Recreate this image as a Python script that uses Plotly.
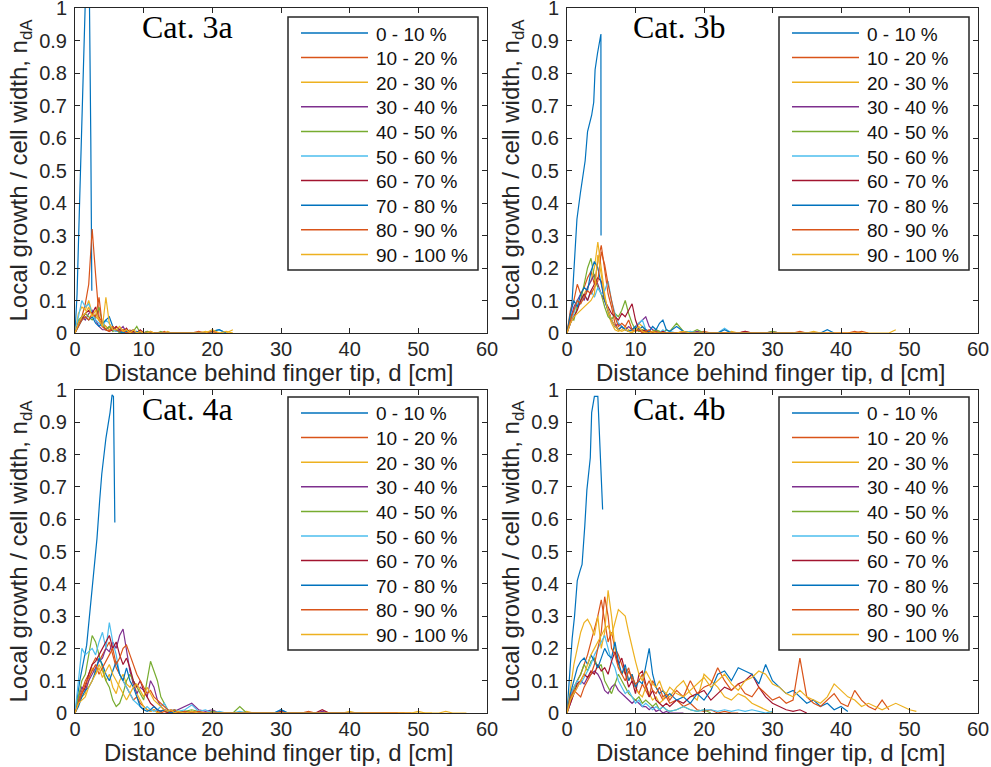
import plotly.graph_objects as go

# Sampling grids along the finger [cm]
d_near = [0, 0.5, 1, 1.5, 2, 2.5, 3, 3.5, 4, 4.5, 5, 5.5, 6, 6.5, 7, 7.5,
          8, 8.5, 9, 9.5, 10, 10.5, 11, 11.5, 12, 12.5, 13, 13.5, 14, 14.5, 15]
d_far = list(range(16, 61))

bands = ["0 - 10 %", "10 - 20 %", "20 - 30 %", "30 - 40 %", "40 - 50 %",
         "50 - 60 %", "60 - 70 %", "70 - 80 %", "80 - 90 %", "90 - 100 %"]
colors = ["#0072BD", "#D95319", "#EDB120", "#7E2F8E", "#77AC30",
          "#4DBEEE", "#A2142F", "#0072BD", "#D95319", "#EDB120"]
x_ticks = [0, 10, 20, 30, 40, 50, 60]
y_ticks = [0, 0.1, 0.2, 0.3, 0.4, 0.5, 0.6, 0.7, 0.8, 0.9, 1]
y_tick_text = ["0", "0.1", "0.2", "0.3", "0.4", "0.5", "0.6", "0.7", "0.8", "0.9", "1"]
x_title = "Distance behind finger tip, d [cm]"
y_title = "Local growth / cell width, n<sub>dA</sub>"

# ---------------- Cat. 3a ----------------
c3a_tip_d = [0, 0.3, 0.6, 0.9, 1.2, 1.5, 1.8, 2.1, 2.3, 2.45]
c3a_tip_n = [0, 0.12, 0.35, 0.6, 0.85, 1.02, 1.05, 1.03, 0.6, 0.13]
c3a_near = [
    [0, 0.03, 0.05, 0.09, 0.15, 0.32, 0.18, 0.05, 0.03, 0.02, 0.01, 0.01, 0.02, 0.01, 0.005, 0.01, 0, 0.005, 0, 0.005, 0, 0, 0.005, 0, 0, 0, 0.005, 0, 0, 0, 0],
    [0, 0.06, 0.08, 0.07, 0.1, 0.06, 0.05, 0.04, 0.03, 0.02, 0.01, 0.02, 0.01, 0.005, 0.01, 0, 0.01, 0, 0.005, 0, 0, 0.005, 0, 0, 0, 0, 0, 0.005, 0, 0, 0],
    [0, 0.03, 0.05, 0.04, 0.06, 0.07, 0.04, 0.02, 0.01, 0.01, 0.02, 0.01, 0.005, 0.01, 0.02, 0, 0.005, 0.01, 0, 0, 0, 0.005, 0, 0, 0, 0, 0, 0, 0, 0, 0],
    [0, 0.04, 0.05, 0.06, 0.05, 0.04, 0.05, 0.08, 0.03, 0.01, 0.02, 0.005, 0.01, 0, 0.005, 0.01, 0, 0.005, 0.02, 0, 0, 0.005, 0, 0, 0, 0.005, 0, 0, 0, 0, 0],
    [0, 0.05, 0.1, 0.08, 0.09, 0.06, 0.04, 0.03, 0.02, 0.04, 0.03, 0.01, 0.005, 0.01, 0, 0.005, 0, 0, 0.005, 0, 0, 0, 0, 0, 0, 0, 0, 0, 0, 0, 0],
    [0, 0.03, 0.04, 0.06, 0.07, 0.06, 0.08, 0.04, 0.02, 0.01, 0.005, 0.01, 0.02, 0.01, 0.005, 0.015, 0, 0.005, 0, 0.01, 0, 0, 0, 0, 0, 0, 0, 0, 0, 0, 0],
    [0, 0.02, 0.04, 0.05, 0.04, 0.05, 0.03, 0.02, 0.03, 0.04, 0.05, 0.02, 0.01, 0.005, 0, 0.005, 0, 0, 0.005, 0, 0, 0, 0, 0, 0, 0, 0, 0, 0, 0, 0],
    [0, 0.02, 0.04, 0.05, 0.04, 0.06, 0.05, 0.11, 0.02, 0.01, 0.005, 0.02, 0.01, 0.005, 0.01, 0, 0.005, 0, 0, 0.005, 0, 0, 0, 0, 0, 0, 0, 0, 0, 0, 0],
    [0, 0.03, 0.05, 0.06, 0.08, 0.05, 0.07, 0.04, 0.02, 0.11, 0.03, 0.01, 0.01, 0.02, 0.005, 0.01, 0, 0.01, 0, 0.005, 0, 0, 0.005, 0, 0, 0, 0, 0, 0, 0, 0],
]
c3a_far = [
    [0, 0, 0.005, 0, 0, 0],
    [0, 0, 0, 0.005, 0, 0, 0, 0.01],
    [0, 0],
    [0, 0, 0],
    [0, 0, 0, 0, 0.005, 0.01, 0],
    [0, 0],
    [0, 0, 0, 0, 0.005, 0.01, 0],
    [0, 0, 0, 0, 0.005, 0],
    [0, 0, 0, 0, 0.01, 0, 0.005, 0],
]

# ---------------- Cat. 3b ----------------
c3b_tip_d = [0, 0.4, 0.75, 1.1, 1.45, 1.95, 2.65, 3.0, 3.6, 3.9, 4.1, 4.45, 4.85, 4.95, 4.97]
c3b_tip_n = [0, 0.04, 0.1, 0.22, 0.35, 0.43, 0.53, 0.62, 0.67, 0.71, 0.81, 0.86, 0.92, 0.92, 0.3]
c3b_near = [
    [0, 0.07, 0.1, 0.15, 0.12, 0.14, 0.17, 0.19, 0.15, 0.22, 0.27, 0.2, 0.12, 0.08, 0.03, 0.01, 0.02, 0.01, 0.005, 0.01, 0.02, 0.005, 0.01, 0, 0.005, 0, 0.01, 0, 0.005, 0, 0],
    [0, 0.05, 0.07, 0.08, 0.1, 0.12, 0.14, 0.16, 0.2, 0.28, 0.2, 0.12, 0.06, 0.03, 0.01, 0.005, 0.01, 0.02, 0.01, 0.005, 0.01, 0.03, 0.02, 0.005, 0, 0.005, 0, 0.005, 0, 0, 0],
    [0, 0.04, 0.08, 0.1, 0.12, 0.1, 0.14, 0.16, 0.18, 0.15, 0.12, 0.1, 0.07, 0.04, 0.02, 0.03, 0.02, 0.01, 0.02, 0.01, 0.02, 0.03, 0.04, 0.05, 0.02, 0.01, 0.005, 0, 0.005, 0, 0],
    [0, 0.05, 0.04, 0.08, 0.1, 0.15, 0.2, 0.23, 0.17, 0.14, 0.12, 0.08, 0.05, 0.04, 0.06, 0.05, 0.07, 0.1, 0.06, 0.03, 0.01, 0.005, 0.01, 0.005, 0, 0.005, 0.01, 0.005, 0, 0.01, 0.005],
    [0, 0.03, 0.06, 0.1, 0.09, 0.12, 0.1, 0.13, 0.11, 0.14, 0.12, 0.13, 0.16, 0.1, 0.06, 0.03, 0.02, 0.01, 0.005, 0.01, 0.02, 0.03, 0.04, 0.01, 0.005, 0, 0.005, 0, 0.01, 0, 0.005],
    [0, 0.03, 0.05, 0.07, 0.1, 0.12, 0.1, 0.13, 0.15, 0.17, 0.16, 0.1, 0.08, 0.06, 0.05, 0.04, 0.06, 0.05, 0.07, 0.09, 0.04, 0.01, 0.005, 0.01, 0, 0.005, 0, 0, 0.005, 0, 0],
    [0, 0.06, 0.1, 0.08, 0.12, 0.14, 0.13, 0.19, 0.22, 0.2, 0.15, 0.1, 0.07, 0.04, 0.02, 0.01, 0.02, 0.01, 0.005, 0.01, 0.02, 0.01, 0.02, 0.01, 0.005, 0.02, 0.01, 0.03, 0.04, 0.01, 0.005],
    [0, 0.04, 0.07, 0.1, 0.09, 0.11, 0.13, 0.12, 0.14, 0.16, 0.25, 0.21, 0.15, 0.1, 0.05, 0.02, 0.03, 0.02, 0.04, 0.01, 0.005, 0.01, 0, 0.005, 0.01, 0, 0.005, 0, 0, 0, 0],
    [0, 0.03, 0.05, 0.06, 0.07, 0.08, 0.09, 0.1, 0.12, 0.24, 0.18, 0.11, 0.07, 0.04, 0.02, 0.01, 0.005, 0.01, 0.005, 0, 0.01, 0.02, 0.005, 0, 0, 0.005, 0, 0, 0, 0, 0],
]
c3b_far = [
    [0, 0.005, 0, 0, 0.005, 0, 0, 0, 0, 0, 0.005, 0, 0, 0, 0, 0, 0, 0, 0.005, 0, 0, 0, 0, 0, 0, 0, 0.005, 0],
    [0, 0, 0.005, 0, 0, 0, 0, 0, 0.005, 0, 0, 0, 0, 0, 0, 0, 0, 0, 0, 0, 0.005, 0],
    [0, 0, 0, 0.005, 0, 0, 0, 0, 0, 0, 0, 0, 0, 0, 0.005, 0, 0, 0],
    [0.03, 0.005, 0, 0.01, 0, 0, 0, 0, 0, 0, 0, 0, 0, 0, 0.005, 0, 0, 0, 0, 0],
    [0, 0, 0.005, 0, 0, 0, 0, 0.015, 0, 0, 0, 0, 0, 0, 0, 0, 0, 0, 0, 0, 0, 0],
    [0, 0, 0, 0, 0, 0, 0, 0, 0, 0, 0.005, 0, 0, 0, 0, 0, 0, 0],
    [0.02, 0.005, 0, 0, 0, 0, 0, 0.01, 0, 0, 0, 0, 0, 0, 0, 0, 0, 0, 0, 0, 0, 0, 0.01, 0],
    [0, 0, 0, 0, 0, 0, 0, 0, 0, 0, 0, 0, 0, 0, 0, 0, 0, 0, 0, 0, 0, 0, 0, 0, 0, 0, 0, 0.005, 0],
    [0, 0.005, 0, 0, 0, 0, 0, 0, 0, 0, 0, 0, 0, 0, 0, 0, 0, 0, 0, 0, 0, 0, 0, 0, 0, 0, 0, 0, 0, 0, 0, 0, 0.01],
]

# ---------------- Cat. 4a ----------------
c4a_tip_d = [0, 0.7, 1.7, 2.4, 3.2, 3.6, 3.9, 4.5, 5.1, 5.4, 5.6, 5.8]
c4a_tip_n = [0, 0.1, 0.21, 0.36, 0.54, 0.66, 0.74, 0.85, 0.93, 0.985, 0.98, 0.59]
c4a_near = [
    [0, 0.04, 0.07, 0.1, 0.12, 0.15, 0.17, 0.16, 0.18, 0.2, 0.22, 0.18, 0.14, 0.12, 0.1, 0.08, 0.06, 0.04, 0.05, 0.03, 0.02, 0.01, 0.005, 0.01, 0.005, 0, 0.005, 0, 0, 0, 0],
    [0, 0.03, 0.05, 0.06, 0.1, 0.14, 0.12, 0.15, 0.13, 0.1, 0.12, 0.08, 0.06, 0.1, 0.12, 0.09, 0.08, 0.1, 0.06, 0.04, 0.02, 0.01, 0.005, 0.01, 0, 0.005, 0.01, 0, 0.005, 0, 0],
    [0, 0.05, 0.08, 0.07, 0.1, 0.12, 0.14, 0.16, 0.17, 0.2, 0.19, 0.22, 0.2, 0.24, 0.26, 0.2, 0.13, 0.09, 0.06, 0.08, 0.07, 0.05, 0.1, 0.08, 0.04, 0.02, 0.01, 0.005, 0.01, 0.005, 0.01],
    [0, 0.05, 0.1, 0.12, 0.18, 0.24, 0.22, 0.18, 0.14, 0.1, 0.08, 0.04, 0.02, 0.03, 0.06, 0.1, 0.12, 0.1, 0.08, 0.06, 0.04, 0.1, 0.16, 0.13, 0.1, 0.05, 0.03, 0.01, 0.005, 0.01, 0.005],
    [0, 0.1, 0.2, 0.18, 0.19, 0.2, 0.18, 0.22, 0.25, 0.2, 0.28, 0.22, 0.18, 0.12, 0.1, 0.08, 0.06, 0.04, 0.03, 0.02, 0.01, 0.02, 0.01, 0.005, 0.01, 0.02, 0.03, 0.01, 0.005, 0.01, 0.005],
    [0, 0.03, 0.06, 0.08, 0.12, 0.15, 0.16, 0.18, 0.2, 0.22, 0.24, 0.2, 0.22, 0.18, 0.15, 0.17, 0.14, 0.1, 0.08, 0.1, 0.07, 0.05, 0.03, 0.02, 0.01, 0.005, 0.01, 0, 0.005, 0, 0],
    [0, 0.02, 0.05, 0.07, 0.08, 0.1, 0.13, 0.17, 0.15, 0.12, 0.1, 0.13, 0.16, 0.12, 0.1, 0.14, 0.1, 0.08, 0.05, 0.02, 0.01, 0.005, 0.01, 0.02, 0.01, 0.005, 0.01, 0.005, 0, 0.005, 0],
    [0, 0.03, 0.06, 0.09, 0.11, 0.13, 0.15, 0.12, 0.14, 0.16, 0.18, 0.2, 0.15, 0.17, 0.2, 0.21, 0.18, 0.15, 0.12, 0.1, 0.08, 0.06, 0.07, 0.05, 0.04, 0.03, 0.02, 0.01, 0.005, 0.01, 0],
    [0, 0.03, 0.04, 0.05, 0.08, 0.1, 0.12, 0.14, 0.11, 0.13, 0.15, 0.12, 0.1, 0.08, 0.06, 0.04, 0.06, 0.08, 0.09, 0.07, 0.05, 0.08, 0.06, 0.04, 0.03, 0.02, 0.01, 0.005, 0.01, 0, 0.005],
]
c4a_far = [
    [0, 0.005, 0, 0, 0.005, 0, 0, 0, 0, 0, 0, 0, 0, 0, 0, 0, 0, 0, 0.005, 0, 0, 0, 0, 0, 0, 0, 0, 0, 0, 0, 0, 0, 0],
    [0.005, 0, 0, 0, 0, 0, 0, 0, 0, 0.005, 0, 0, 0, 0, 0, 0, 0, 0, 0, 0, 0, 0, 0, 0, 0.005, 0, 0, 0, 0, 0, 0, 0, 0, 0, 0, 0, 0],
    [0.02, 0.03, 0.01, 0.005, 0.01, 0, 0, 0, 0, 0, 0, 0, 0, 0, 0, 0, 0, 0, 0, 0, 0.005, 0, 0, 0, 0],
    [0.005, 0.01, 0.005, 0, 0.005, 0, 0, 0, 0.02, 0, 0, 0, 0, 0, 0, 0, 0, 0, 0, 0],
    [0.01, 0.025, 0.005, 0.01, 0, 0.005, 0, 0, 0.005, 0, 0, 0, 0, 0, 0.01, 0, 0, 0, 0, 0, 0, 0, 0, 0, 0, 0, 0, 0, 0, 0],
    [0, 0.005, 0, 0, 0, 0, 0, 0, 0, 0, 0, 0, 0, 0, 0.005, 0, 0, 0, 0, 0, 0.01, 0, 0, 0, 0, 0, 0, 0, 0, 0, 0, 0],
    [0.005, 0, 0, 0, 0, 0, 0, 0, 0, 0, 0, 0, 0, 0, 0.01, 0, 0, 0, 0, 0, 0, 0, 0, 0, 0, 0, 0],
    [0.005, 0, 0.005, 0, 0, 0, 0, 0, 0, 0, 0, 0, 0, 0, 0, 0, 0, 0, 0, 0, 0, 0, 0, 0, 0, 0, 0, 0, 0, 0, 0, 0, 0, 0],
    [0, 0.005, 0, 0, 0, 0, 0, 0, 0, 0, 0, 0, 0, 0, 0, 0, 0, 0, 0, 0, 0, 0, 0, 0, 0, 0, 0, 0, 0, 0, 0, 0, 0, 0, 0.005, 0, 0, 0, 0.005, 0, 0, 0],
]

# ---------------- Cat. 4b ----------------
c4b_tip_d = [0, 0.4, 0.75, 1.1, 1.5, 1.9, 2.2, 2.6, 2.9, 3.2, 3.4, 3.6, 4.0, 4.5, 4.75, 5.0, 5.2]
c4b_tip_n = [0, 0.12, 0.23, 0.3, 0.41, 0.44, 0.46, 0.58, 0.69, 0.75, 0.79, 0.93, 0.98, 0.98, 0.86, 0.72, 0.63]
c4b_near = [
    [0, 0.05, 0.08, 0.1, 0.12, 0.15, 0.18, 0.22, 0.26, 0.3, 0.35, 0.28, 0.22, 0.25, 0.2, 0.18, 0.15, 0.12, 0.14, 0.1, 0.08, 0.06, 0.09, 0.07, 0.05, 0.1, 0.08, 0.06, 0.04, 0.05, 0.03],
    [0, 0.08, 0.15, 0.2, 0.25, 0.28, 0.29, 0.27, 0.24, 0.3, 0.2, 0.25, 0.38, 0.3, 0.2, 0.15, 0.12, 0.14, 0.1, 0.12, 0.08, 0.06, 0.05, 0.08, 0.06, 0.04, 0.05, 0.03, 0.04, 0.06, 0.05],
    [0, 0.03, 0.06, 0.08, 0.1, 0.09, 0.11, 0.12, 0.13, 0.12, 0.1, 0.07, 0.06, 0.08, 0.09, 0.07, 0.06, 0.05, 0.04, 0.03, 0.04, 0.03, 0.02, 0.02, 0.01, 0.02, 0.005, 0.01, 0, 0.005, 0],
    [0, 0.04, 0.07, 0.1, 0.12, 0.15, 0.13, 0.16, 0.17, 0.14, 0.15, 0.1, 0.08, 0.06, 0.09, 0.12, 0.1, 0.08, 0.06, 0.05, 0.04, 0.05, 0.03, 0.04, 0.03, 0.02, 0.03, 0.01, 0.02, 0.01, 0.005],
    [0, 0.05, 0.08, 0.1, 0.09, 0.11, 0.13, 0.15, 0.18, 0.2, 0.22, 0.24, 0.2, 0.16, 0.14, 0.1, 0.08, 0.06, 0.07, 0.05, 0.03, 0.04, 0.02, 0.03, 0.02, 0.01, 0.02, 0.01, 0.02, 0.01, 0.005],
    [0, 0.03, 0.06, 0.09, 0.1, 0.12, 0.11, 0.13, 0.12, 0.15, 0.13, 0.14, 0.12, 0.16, 0.19, 0.15, 0.17, 0.12, 0.08, 0.1, 0.06, 0.12, 0.13, 0.09, 0.05, 0.07, 0.04, 0.03, 0.02, 0.03, 0.02],
    [0, 0.06, 0.1, 0.14, 0.16, 0.17, 0.15, 0.18, 0.16, 0.14, 0.17, 0.2, 0.18, 0.17, 0.22, 0.16, 0.12, 0.15, 0.1, 0.12, 0.08, 0.1, 0.09, 0.15, 0.2, 0.12, 0.08, 0.06, 0.07, 0.05, 0.06],
    [0, 0.05, 0.07, 0.06, 0.05, 0.08, 0.1, 0.12, 0.15, 0.2, 0.25, 0.36, 0.3, 0.2, 0.18, 0.14, 0.12, 0.1, 0.13, 0.11, 0.09, 0.1, 0.12, 0.08, 0.1, 0.07, 0.06, 0.08, 0.05, 0.06, 0.04],
    [0, 0.04, 0.06, 0.08, 0.1, 0.12, 0.15, 0.18, 0.2, 0.22, 0.24, 0.26, 0.27, 0.24, 0.28, 0.32, 0.31, 0.3, 0.25, 0.2, 0.16, 0.12, 0.1, 0.13, 0.11, 0.09, 0.08, 0.1, 0.07, 0.06, 0.08],
]
c4b_far = [
    [0.04, 0.02, 0.03, 0.01, 0.005, 0.01, 0, 0.005, 0, 0],
    [0.08, 0.1, 0.06, 0.04, 0.12, 0.1, 0.08, 0.05, 0.04, 0.06, 0.05, 0.03, 0.02, 0.01, 0],
    [0, 0],
    [0.01, 0.02, 0.01, 0.005, 0.01, 0],
    [0.01, 0.02, 0.01, 0.005, 0.01, 0.01, 0.005, 0.01, 0.005, 0.01, 0.005, 0.01, 0.005, 0, 0.005],
    [0.04, 0.03, 0.05, 0.06, 0.07, 0.04, 0.06, 0.08, 0.07, 0.09, 0.1, 0.12, 0.08, 0.05, 0.03, 0.02, 0.01, 0.005, 0.01, 0],
    [0.04, 0.05, 0.03, 0.06, 0.04, 0.07, 0.12, 0.13, 0.1, 0.14, 0.13, 0.12, 0.09, 0.15, 0.1, 0.08, 0.06, 0.07, 0.05, 0.03, 0.04, 0.02, 0.03, 0.01, 0.02, 0.005],
    [0.07, 0.05, 0.1, 0.06, 0.08, 0.09, 0.14, 0.1, 0.07, 0.09, 0.06, 0.05, 0.08, 0.06, 0.04, 0.05, 0.03, 0.04, 0.17, 0.05, 0.03, 0.02, 0.04, 0.06, 0.03, 0.02, 0.07, 0.04, 0.02, 0.01, 0.04, 0.01],
    [0.06, 0.05, 0.07, 0.09, 0.11, 0.08, 0.1, 0.12, 0.09, 0.07, 0.1, 0.11, 0.13, 0.12, 0.09, 0.08, 0.06, 0.05, 0.07, 0.05, 0.04, 0.03, 0.05, 0.09, 0.07, 0.05, 0.04, 0.02, 0.03, 0.02, 0.01, 0.02, 0.03, 0.02, 0.01, 0.005],
]

panels = [
    ("Cat. 3a", c3a_tip_d, c3a_tip_n, c3a_near, c3a_far),
    ("Cat. 3b", c3b_tip_d, c3b_tip_n, c3b_near, c3b_far),
    ("Cat. 4a", c4a_tip_d, c4a_tip_n, c4a_near, c4a_far),
    ("Cat. 4b", c4b_tip_d, c4b_tip_n, c4b_near, c4b_far),
]

W, H = 991, 767
# plot areas in pixels: (left, right, top, bottom)
boxes = [(75, 487, 8, 333), (567, 978, 8, 333),
         (75, 487, 390, 713), (567, 978, 390, 713)]
# key boxes in pixels: (left, top)
key_pos = [(288, 17), (779, 17), (288, 397), (779, 397)]
KEY_W, KEY_H, KEY_ROW = 190, 253, 24.6

TXT = "#262626"
sans = "Liberation Sans, Arial, sans-serif"
serif = "Liberation Serif, Times New Roman, serif"


def px(x):
    return x / W


def py(y):
    return 1 - y / H


fig = go.Figure()
layout = dict(width=W, height=H, margin=dict(l=0, r=0, t=0, b=0),
              paper_bgcolor="white", plot_bgcolor="white", showlegend=False,
              font=dict(family=sans, color=TXT), annotations=[], shapes=[])

for i, (label, tip_d, tip_n, near, far) in enumerate(panels):
    k = "" if i == 0 else str(i + 1)
    xa, ya = "x" + k, "y" + k
    fig.add_trace(go.Scatter(x=tip_d, y=tip_n, mode="lines", name=bands[0],
                             line=dict(color=colors[0], width=1.2),
                             xaxis=xa, yaxis=ya))
    for j in range(9):
        xs = d_near[:len(near[j])] + d_far[:len(far[j])]
        ys = near[j] + far[j]
        fig.add_trace(go.Scatter(x=xs, y=ys, mode="lines", name=bands[j + 1],
                                 line=dict(color=colors[j + 1], width=1.2),
                                 xaxis=xa, yaxis=ya))
    l, r, t, b = boxes[i]
    common = dict(showline=True, linecolor=TXT, linewidth=1, mirror="ticks",
                  ticks="inside", ticklen=5, tickwidth=1, tickcolor=TXT,
                  showgrid=False, zeroline=False, automargin=False,
                  ticklabeloverflow="allow",
                  tickfont=dict(family=sans, size=20, color=TXT))
    layout["xaxis" + k] = dict(common, domain=[px(l), px(r)], range=[0, 60],
                               tickvals=x_ticks, anchor=ya, ticklabelstandoff=-2)
    layout["yaxis" + k] = dict(common, domain=[py(b), py(t)], range=[0, 1],
                               tickvals=y_ticks, ticktext=y_tick_text, anchor=xa,
                               ticklabelstandoff=3,
                               title=dict(text=y_title,
                                          font=dict(family=sans, size=24, color=TXT),
                                          standoff=4))
    # x-axis title placed just under the tick labels
    layout["annotations"].append(dict(
        text=x_title, x=px((l + r) / 2 - 2), y=py(b + 39),
        xref="paper", yref="paper", showarrow=False, xanchor="center", yanchor="middle",
        font=dict(family=sans, size=24, color=TXT)))
    # panel label
    layout["annotations"].append(dict(
        text=label, x=px(l + 112), y=py(t + 19),
        xref="paper", yref="paper", showarrow=False, xanchor="center", yanchor="middle",
        font=dict(family=serif, size=32, color="black")))
    # key box with one sample line and label per band
    kx, ky = key_pos[i]
    layout["shapes"].append(dict(type="rect", xref="paper", yref="paper",
                                 x0=px(kx), x1=px(kx + KEY_W), y0=py(ky), y1=py(ky + KEY_H),
                                 line=dict(color=TXT, width=1.5), fillcolor="white"))
    for j in range(10):
        yy = ky + 16 + j * KEY_ROW
        layout["shapes"].append(dict(type="line", xref="paper", yref="paper",
                                     x0=px(kx + 13), x1=px(kx + 80), y0=py(yy), y1=py(yy),
                                     line=dict(color=colors[j], width=1.5)))
        layout["annotations"].append(dict(
            text=bands[j], x=px(kx + 86), y=py(yy + 1), xref="paper", yref="paper",
            showarrow=False, xanchor="left", yanchor="middle",
            font=dict(family=sans, size=19, color="#111111")))

fig.update_layout(**layout)
fig.write_html("out.html")
